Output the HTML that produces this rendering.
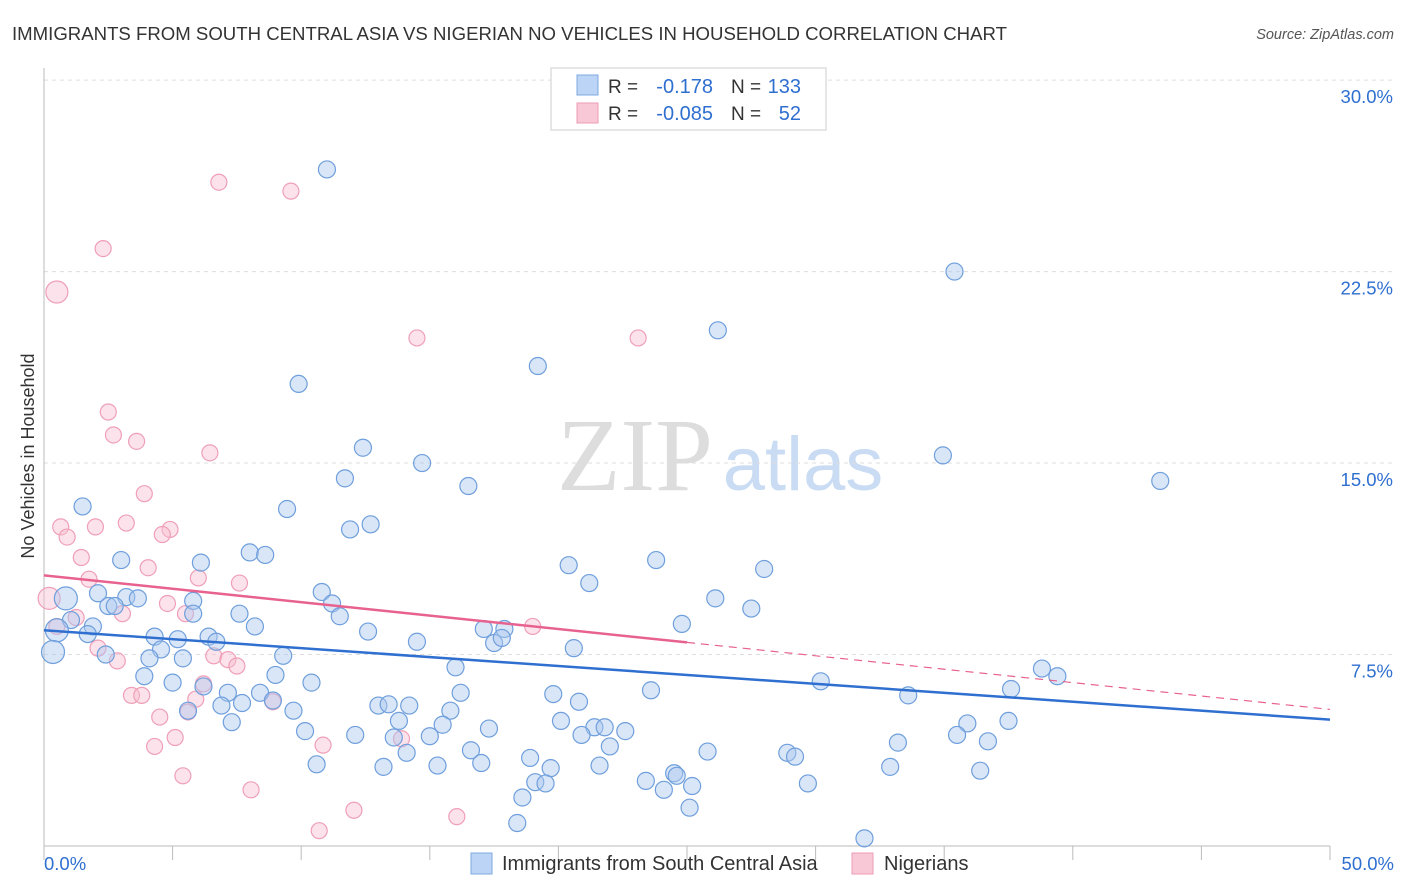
<!DOCTYPE html>
<html><head><meta charset="utf-8"><style>
body{margin:0;background:#fff;font-family:"Liberation Sans",sans-serif;}
svg{display:block}
</style></head><body>
<svg id="chart" width="1406" height="892">
<text x="12" y="40" font-size="18.6" fill="#333" textLength="995" lengthAdjust="spacingAndGlyphs">IMMIGRANTS FROM SOUTH CENTRAL ASIA VS NIGERIAN NO VEHICLES IN HOUSEHOLD CORRELATION CHART</text>
<text x="1394" y="39" font-size="14.5" fill="#555" font-style="italic" text-anchor="end">Source: ZipAtlas.com</text>
<g>
<text x="635" y="490" font-size="104" font-family="Liberation Serif,serif" fill="#ddd" text-anchor="middle">ZIP</text>
<text x="803" y="490" font-size="76" fill="#c9dcf3" text-anchor="middle">atlas</text>
</g>
<text transform="translate(34,456) rotate(-90)" font-size="18" fill="#333" text-anchor="middle">No Vehicles in Household</text>
<g id="grid"></g><g id="marks"></g>
<g>
<rect x="551" y="68" width="275" height="62" fill="#fff" stroke="#ddd" stroke-width="1.5"/>
<rect x="577" y="75" width="21" height="20" fill="#bcd4f5" stroke="#7fa8e0"/>
<rect x="577" y="103" width="21" height="20" fill="#f9c8d6" stroke="#ee9bb4"/>
<text x="608" y="93" font-size="19" fill="#333">R =</text><text x="713" y="93" font-size="20" fill="#2f6fd0" text-anchor="end">-0.178</text>
<text x="731" y="93" font-size="19" fill="#333">N =</text><text x="801" y="93" font-size="20" fill="#2f6fd0" text-anchor="end">133</text>
<text x="608" y="120" font-size="19" fill="#333">R =</text><text x="713" y="120" font-size="20" fill="#2f6fd0" text-anchor="end">-0.085</text>
<text x="731" y="120" font-size="19" fill="#333">N =</text><text x="801" y="120" font-size="20" fill="#2f6fd0" text-anchor="end">52</text>
</g>
<g>
<rect x="471" y="853" width="21" height="21" fill="#bcd4f5" stroke="#7fa8e0"/>
<text x="502" y="870" font-size="20" fill="#333">Immigrants from South Central Asia</text>
<rect x="852" y="853" width="21" height="21" fill="#f9c8d6" stroke="#ee9bb4"/>
<text x="884" y="870" font-size="20" fill="#333">Nigerians</text>
</g>
</svg>
<script>
const yTicks=[7.5,15,22.5,30];
const xTickLabels=["0.0%","50.0%"];
const blueX=[11.0,35.4,26.2,19.2,9.9,12.4,14.7,34.95,43.4,11.7,16.5,1.5,9.45,12.7,11.9,8.0,8.6,3.0,6.1,20.4,23.8,28.0,21.2,2.1,3.2,3.65,2.5,2.75,5.8,10.8,11.2,5.8,7.6,11.5,26.1,27.5,24.8,1.05,1.9,1.7,8.2,4.3,5.2,6.4,6.7,12.6,17.1,17.9,17.5,17.8,14.5,4.55,2.4,4.1,5.4,9.3,20.6,16.0,3.9,9.0,5.0,10.4,30.2,38.8,39.4,7.15,6.2,8.4,16.2,19.8,23.6,37.6,33.6,5.6,6.9,7.7,8.9,9.7,13.0,13.4,14.2,20.8,15.8,7.3,13.8,20.1,15.5,17.3,21.4,21.8,22.6,35.9,37.5,10.15,12.1,13.6,15.0,20.9,35.5,36.7,33.2,22.0,14.1,16.6,25.8,28.9,29.2,18.9,10.6,13.2,15.3,17.0,19.7,21.6,32.9,36.4,24.5,24.6,19.1,19.5,23.4,25.2,29.7,24.1,18.6,25.1,18.4,31.9];
const blueY=[26.5,22.5,20.2,18.8,18.1,15.6,15.0,15.3,14.3,14.4,14.1,13.3,13.2,12.6,12.4,11.5,11.4,11.2,11.1,11.0,11.2,10.85,10.3,9.9,9.75,9.7,9.4,9.4,9.6,9.95,9.5,9.1,9.1,9.0,9.7,9.3,8.7,8.85,8.6,8.3,8.6,8.2,8.1,8.2,8.0,8.4,8.5,8.5,7.95,8.15,8.0,7.7,7.5,7.35,7.35,7.45,7.75,7.0,6.65,6.7,6.4,6.4,6.45,6.95,6.65,6.0,6.25,6.0,6.0,5.95,6.1,6.15,5.9,5.3,5.5,5.6,5.7,5.3,5.5,5.55,5.5,5.65,5.3,4.85,4.9,4.9,4.75,4.6,4.65,4.65,4.5,4.8,4.9,4.5,4.35,4.25,4.3,4.35,4.35,4.1,4.05,3.9,3.65,3.75,3.7,3.65,3.5,3.45,3.2,3.1,3.15,3.25,3.05,3.15,3.1,2.95,2.85,2.75,2.5,2.45,2.55,2.35,2.45,2.2,1.9,1.5,0.9,0.3];
const blueBigX=[0.85,0.5,0.35];
const blueBigY=[9.7,8.45,7.6];
const pinkX=[6.8,9.6,2.3,14.5,23.1,2.5,2.7,3.6,6.45,3.9,0.65,2.0,3.2,4.9,4.6,0.9,1.45,4.05,1.75,6.0,7.6,4.8,1.25,3.05,5.5,19.0,0.5,2.1,2.85,6.6,7.15,7.5,6.2,3.4,3.8,5.9,8.9,5.6,4.5,5.1,4.3,10.85,13.9,5.4,8.05,12.05,16.05,10.7];
const pinkY=[26.0,25.65,23.4,19.9,19.9,17.0,16.1,15.85,15.4,13.8,12.5,12.5,12.65,12.4,12.2,12.1,11.3,10.9,10.45,10.5,10.3,9.5,8.95,9.1,9.1,8.6,8.6,7.75,7.25,7.45,7.3,7.05,6.35,5.9,5.9,5.75,5.65,5.25,5.05,4.25,3.9,3.95,4.2,2.75,2.2,1.4,1.15,0.6];
const pinkBigX=[0.5,0.2];
const pinkBigY=[21.7,9.7];
const blueTrend=[8.45,4.95];
const pinkTrend=[10.6,5.35];
const pinkSolidEnd=25;

const X0=44,X1=1330,Y0=846,PPY=25.53;
const sx=v=>X0+(v/50)*(X1-X0);
const sy=v=>Y0-v*PPY;
const NS="http://www.w3.org/2000/svg";
const grid=document.getElementById('grid'),marks=document.getElementById('marks');
function mk(tag,at,parent){const e=document.createElementNS(NS,tag);for(const k in at)e.setAttribute(k,at[k]);parent.appendChild(e);return e;}
yTicks.forEach(t=>{
 const l=mk('line',{x1:X0,x2:1394,y1:sy(t),y2:sy(t),stroke:'#ddd','stroke-dasharray':'4,4'},grid);
 
 
 const tx=mk('text',{x:1393,y:sy(t)+23,'font-size':18.5,fill:'#2f6fd0','text-anchor':'end'},grid);
 tx.textContent=t.toFixed(1)+'%';
 
 
});
const ax=mk('line',{x1:X0,x2:X0,y1:68,y2:Y0,stroke:'#bbb'},grid);


const bx=mk('line',{x1:X0,x2:X1,y1:Y0,y2:Y0,stroke:'#bbb'},grid);


for(let i=0;i<=10;i++){const t=mk('line',{x1:sx(i*5),x2:sx(i*5),y1:Y0,y2:Y0+14,stroke:'#bbb'},grid);
 
 }
[[0,'start',44],[50,'end',1394]].forEach((d,i)=>{const t=mk('text',{x:d[2],y:870,'font-size':18.5,fill:'#2f6fd0','text-anchor':d[1]},grid);t.textContent=xTickLabels[i];
 
 });
function dots(xs,ys,r,fill,stroke,name){xs.forEach((x,i)=>{const c=mk('circle',{cx:sx(x),cy:sy(ys[i]),r:r,fill:fill,stroke:stroke,'stroke-width':1.2},marks);
 
 });}
dots(pinkX,pinkY,8,'rgba(249,190,208,0.45)','#ef9fb8','nigerian-point');
dots(pinkBigX,pinkBigY,11,'rgba(249,190,208,0.45)','#ef9fb8','nigerian-point');
dots(blueX,blueY,8.5,'rgba(170,200,240,0.45)','#6f9fdc','asia-point');
dots(blueBigX,blueBigY,11.5,'rgba(170,200,240,0.45)','#6f9fdc','asia-point');
const bl=mk('line',{x1:sx(0),y1:sy(blueTrend[0]),x2:sx(50),y2:sy(blueTrend[1]),stroke:'#2f6fd0','stroke-width':2.5},marks);


const pm=pinkTrend[0]+(pinkTrend[1]-pinkTrend[0])*pinkSolidEnd/50;
const pl=mk('line',{x1:sx(0),y1:sy(pinkTrend[0]),x2:sx(pinkSolidEnd),y2:sy(pm),stroke:'#e8628f','stroke-width':2.5},marks);


const pd=mk('line',{x1:sx(pinkSolidEnd),y1:sy(pm),x2:sx(50),y2:sy(pinkTrend[1]),stroke:'#e8628f','stroke-width':1.2,'stroke-dasharray':'8,6'},marks);


</script>
</body></html>
